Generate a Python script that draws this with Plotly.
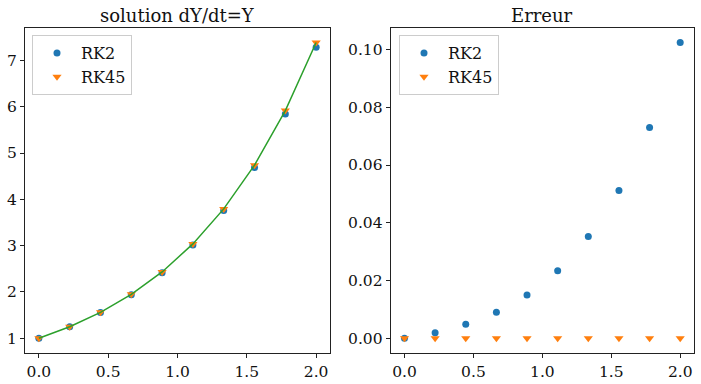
import plotly.graph_objects as go

t = [0.0, 0.2222, 0.4444, 0.6667, 0.8889, 1.1111, 1.3333, 1.5556, 1.7778, 2.0]
rk2 = [1.0, 1.247, 1.555, 1.939, 2.417, 3.014, 3.759, 4.687, 5.844, 7.287]
rk45 = [1.0, 1.249, 1.560, 1.948, 2.432, 3.038, 3.794, 4.738, 5.917, 7.389]
exact = [1.0, 1.249, 1.560, 1.948, 2.432, 3.038, 3.794, 4.738, 5.917, 7.389]
err_rk2 = [0.0, 0.0019, 0.0048, 0.0090, 0.0150, 0.0234, 0.0352, 0.0512, 0.0730, 0.1025]
err_rk45 = [0.0, 0.0, 0.0, 0.0, 0.0, 0.0, 0.0, 0.0, 0.0, 0.0]

titles = ["solution dY/dt=Y", "Erreur"]
blue, orange, green = "#1f77b4", "#ff7f0e", "#2ca02c"
FONT = "DejaVu Serif"

fig = go.Figure()
fig.add_trace(go.Scatter(x=t, y=rk2, mode="markers", name="RK2",
                         marker=dict(color=blue, size=7, symbol="circle"),
                         xaxis="x", yaxis="y", legend="legend"))
fig.add_trace(go.Scatter(x=t, y=rk45, mode="markers", name="RK45",
                         marker=dict(color=orange, size=8, symbol="triangle-down"),
                         xaxis="x", yaxis="y", legend="legend"))
fig.add_trace(go.Scatter(x=t, y=exact, mode="lines", name="exact", showlegend=False,
                         line=dict(color=green, width=1.5),
                         xaxis="x", yaxis="y"))
fig.add_trace(go.Scatter(x=t, y=err_rk2, mode="markers", name="RK2",
                         marker=dict(color=blue, size=7, symbol="circle"),
                         xaxis="x2", yaxis="y2", legend="legend2"))
fig.add_trace(go.Scatter(x=t, y=err_rk45, mode="markers", name="RK45",
                         marker=dict(color=orange, size=8, symbol="triangle-down"),
                         xaxis="x2", yaxis="y2", legend="legend2"))

ax_common = dict(showgrid=False, zeroline=False, showline=True, mirror=True,
                 linecolor="#222222", linewidth=1, ticks="outside", ticklen=4,
                 tickcolor="#222222", tickfont=dict(family=FONT, size=15.5, color="#111111"))
ydom = [1 - 353 / 384, 1 - 27.7 / 384]
leg_common = dict(xanchor="left", yanchor="top", itemwidth=38,
                  bgcolor="rgba(255,255,255,0.8)", bordercolor="#cccccc", borderwidth=1,
                  font=dict(family=FONT, size=16, color="#111111"))
fig.update_layout(
    width=701, height=384, margin=dict(l=0, r=0, t=0, b=0),
    paper_bgcolor="white", plot_bgcolor="white",
    font=dict(family=FONT, color="#111111"),
    xaxis=dict(domain=[25 / 701, 330 / 701], range=[-0.1, 2.1], tickvals=[0, 0.5, 1, 1.5, 2],
               tickformat=".1f", anchor="y", **ax_common),
    yaxis=dict(domain=ydom, range=[0.681, 7.708], tickvals=[1, 2, 3, 4, 5, 6, 7],
               anchor="x", **ax_common),
    xaxis2=dict(domain=[390.7 / 701, 694 / 701], range=[-0.1, 2.1], tickvals=[0, 0.5, 1, 1.5, 2],
                tickformat=".1f", anchor="y2", **ax_common),
    yaxis2=dict(domain=ydom, range=[-0.00513, 0.1076], tickvals=[0, 0.02, 0.04, 0.06, 0.08, 0.10],
                tickformat=".2f", anchor="x2", **ax_common),
    legend=dict(x=32 / 701, y=1 - 35 / 384, **leg_common),
    legend2=dict(x=399 / 701, y=1 - 35 / 384, **leg_common),
    annotations=[
        dict(text=titles[0], x=(25 + 330) / 2 / 701, y=1 - 15 / 384, xref="paper", yref="paper",
             showarrow=False, xanchor="center", yanchor="middle",
             font=dict(family=FONT, size=18, color="#111111")),
        dict(text=titles[1], x=(390.7 + 694) / 2 / 701, y=1 - 15 / 384, xref="paper", yref="paper",
             showarrow=False, xanchor="center", yanchor="middle",
             font=dict(family=FONT, size=18, color="#111111")),
    ],
)

fig.write_html("out.html")
